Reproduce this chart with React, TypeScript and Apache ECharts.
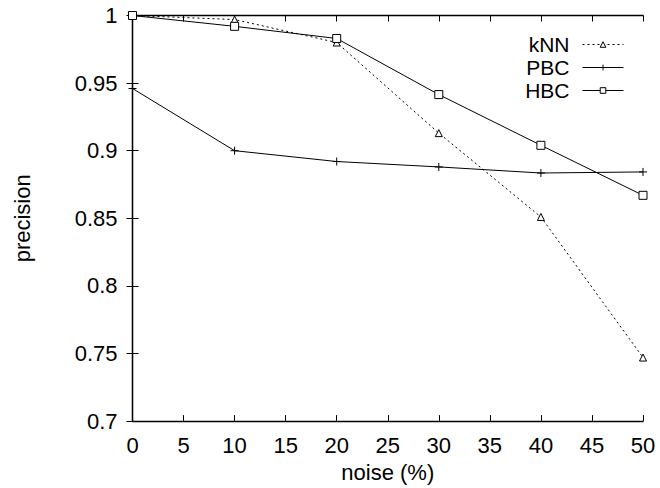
import React, { useEffect, useRef } from "react";
import * as echarts from "echarts";

const noise = [0, 10, 20, 30, 40, 50];
const knn = [1.0, 0.997, 0.98, 0.913, 0.851, 0.747];
const pbc = [0.946, 0.9, 0.892, 0.888, 0.8835, 0.8843];
const hbc = [1.0, 0.992, 0.983, 0.9415, 0.904, 0.867];
const seriesNames = ["kNN", "PBC", "HBC"];
const xLabel = "noise (%)";
const yLabel = "precision";

const FONT = "'Liberation Sans', Arial, Helvetica, sans-serif";
const PLUS = "path://M0,5L10,5M5,0L5,10";

export default function App() {
  const ref = useRef<HTMLDivElement>(null);
  useEffect(() => {
    const chart = echarts.init(ref.current!, undefined, { renderer: "svg" });
    const pair = (ys: number[]) => noise.map((x, i) => [x, ys[i]]);
    const axisCommon = {
      axisLine: { show: true, lineStyle: { color: "#000", width: 1.3 } },
      axisTick: { show: true, inside: true, length: 6, lineStyle: { color: "#000", width: 1 } },
      splitLine: { show: false },
    };
    chart.setOption({
      animation: false,
      backgroundColor: "#fff",
      textStyle: { fontFamily: FONT },
      grid: { left: 132.5, right: 17, top: 15.5, bottom: 64 },
      xAxis: [
        {
          type: "value",
          min: 0,
          max: 50,
          interval: 5,
          position: "bottom",
          name: xLabel,
          nameLocation: "middle",
          nameGap: 32,
          nameTextStyle: { fontFamily: FONT, fontSize: 22, color: "#000" },
          axisLabel: { fontFamily: FONT, fontSize: 22, color: "#000", margin: 13 },
          ...axisCommon,
        },
        {
          type: "value",
          min: 0,
          max: 50,
          interval: 5,
          position: "top",
          axisLabel: { show: false },
          ...axisCommon,
        },
      ],
      yAxis: [
        {
          type: "value",
          min: 0.7,
          max: 1,
          interval: 0.05,
          position: "left",
          name: yLabel,
          nameLocation: "middle",
          nameGap: 99,
          nameTextStyle: { fontFamily: FONT, fontSize: 22, color: "#000" },
          axisLabel: {
            fontFamily: FONT,
            fontSize: 22,
            color: "#000",
            margin: 15,
            formatter: (v: number) => String(+v.toFixed(2)),
          },
          ...axisCommon,
        },
        {
          type: "value",
          min: 0.7,
          max: 1,
          interval: 0.05,
          position: "right",
          axisLabel: { show: false },
          ...axisCommon,
        },
      ],
      legend: {
        orient: "vertical",
        right: 36,
        top: 34,
        padding: 0,
        align: "right",
        itemWidth: 41,
        itemHeight: 7,
        itemGap: 2,
        lineStyle: { width: 1 },
        itemStyle: { color: "#fff", borderColor: "#000", borderWidth: 1 },
        textStyle: {
          fontFamily: FONT,
          fontSize: 21,
          lineHeight: 21,
          color: "#000",
          padding: [0, 8, 0, 0],
        },
        data: seriesNames,
      },
      series: [
        {
          name: seriesNames[0],
          type: "line",
          data: pair(knn),
          symbol: "triangle",
          symbolSize: 7,
          lineStyle: { color: "#000", width: 1, type: [2, 3] },
          itemStyle: { color: "#fff", borderColor: "#000", borderWidth: 1 },
        },
        {
          name: seriesNames[1],
          type: "line",
          data: pair(pbc),
          symbol: PLUS,
          symbolSize: 8,
          lineStyle: { color: "#000", width: 1 },
          itemStyle: { color: "#000", borderColor: "#000", borderWidth: 1 },
        },
        {
          name: seriesNames[2],
          type: "line",
          data: pair(hbc),
          symbol: "rect",
          symbolSize: 8,
          lineStyle: { color: "#000", width: 1 },
          itemStyle: { color: "#fff", borderColor: "#000", borderWidth: 1 },
        },
      ],
    });
    return () => chart.dispose();
  }, []);
  return (
    <div
      ref={ref}
      style={{ position: "fixed", left: 0, top: 0, width: 660, height: 488 }}
    />
  );
}
